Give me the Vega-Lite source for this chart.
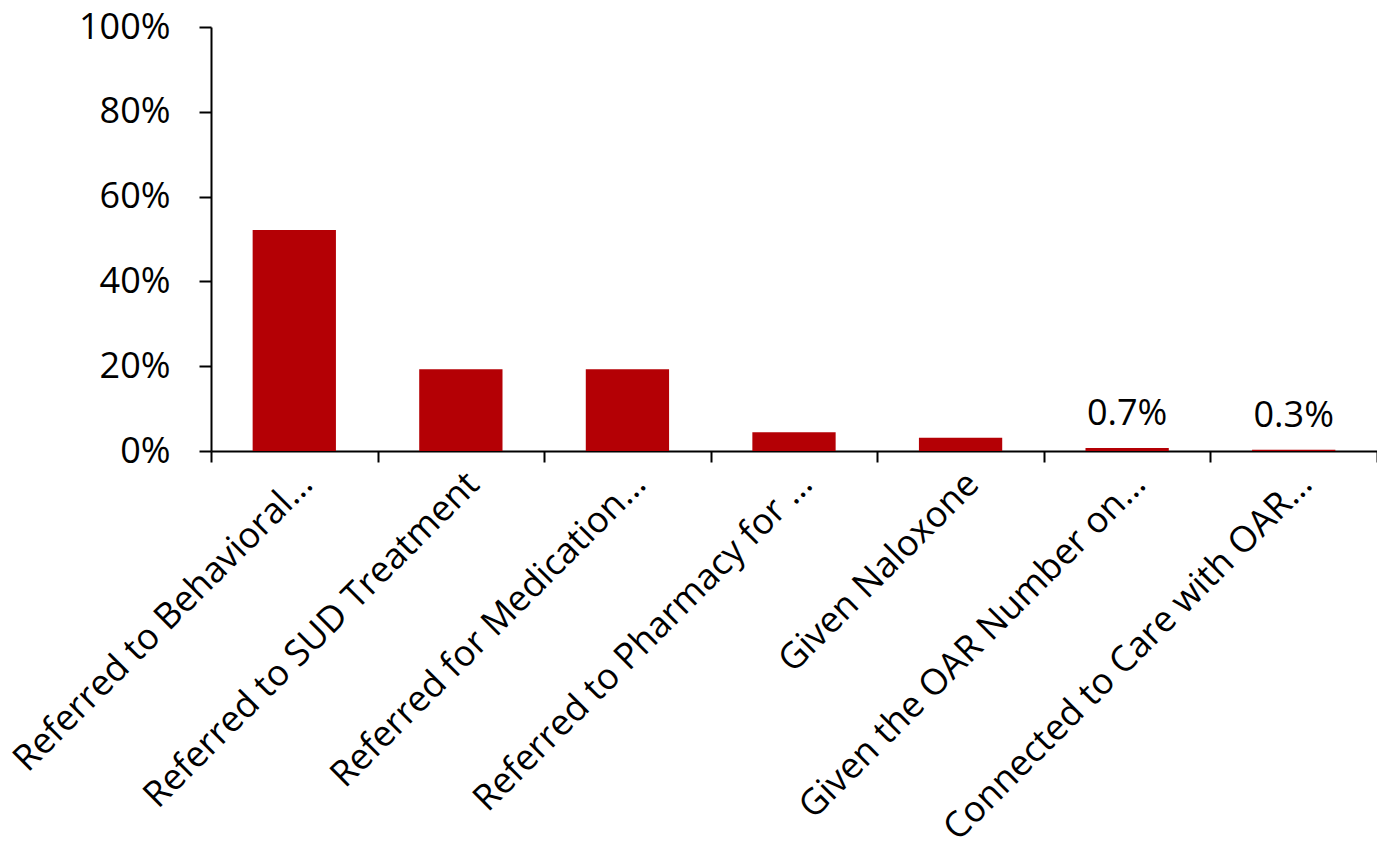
{
  "$schema": "https://vega.github.io/schema/vega-lite/v6.json",
  "autosize": {"type": "none"},
  "padding": {"left": 211, "top": 27, "right": 0, "bottom": 402},
  "width": 1166,
  "height": 424,
  "background": "white",
  "config": {
    "view": {"stroke": null},
    "font": "Open Sans",
    "axis": {"grid": false, "domainColor": "black", "tickColor": "black", "labelColor": "black", "domainWidth": 2, "tickWidth": 2, "labelFont": "Open Sans", "labelFontSize": 36, "title": null}
  },
  "data": {
    "values": [
      {"category": "Referred to Behavioral…", "value": 0.521, "label": null},
      {"category": "Referred to SUD Treatment", "value": 0.193, "label": null},
      {"category": "Referred for Medication…", "value": 0.193, "label": null},
      {"category": "Referred to Pharmacy for …", "value": 0.044, "label": null},
      {"category": "Given Naloxone", "value": 0.031, "label": null},
      {"category": "Given the OAR Number on…", "value": 0.007, "label": "0.7%"},
      {"category": "Connected to Care with OAR…", "value": 0.003, "label": "0.3%"}
    ]
  },
  "encoding": {
    "x": {
      "field": "category", "type": "nominal", "sort": null,
      "scale": {"paddingInner": 0, "paddingOuter": 0},
      "axis": {"labelAngle": -45, "tickBand": "extent", "tickSize": 11, "labelPadding": 4, "labelLimit": 0}
    },
    "y": {
      "field": "value", "type": "quantitative",
      "scale": {"domain": [0, 1], "nice": false},
      "axis": {"values": [0, 0.2, 0.4, 0.6, 0.8, 1], "format": ".0%", "tickSize": 12, "labelPadding": 29}
    }
  },
  "layer": [
    {"mark": {"type": "bar", "color": "#B40005", "width": {"band": 0.5}}},
    {"transform": [{"filter": "datum.label != null"}],
     "mark": {"type": "text", "dy": -23, "baseline": "alphabetic", "fontSize": 36, "color": "black"},
     "encoding": {"text": {"field": "label"}}}
  ]
}
